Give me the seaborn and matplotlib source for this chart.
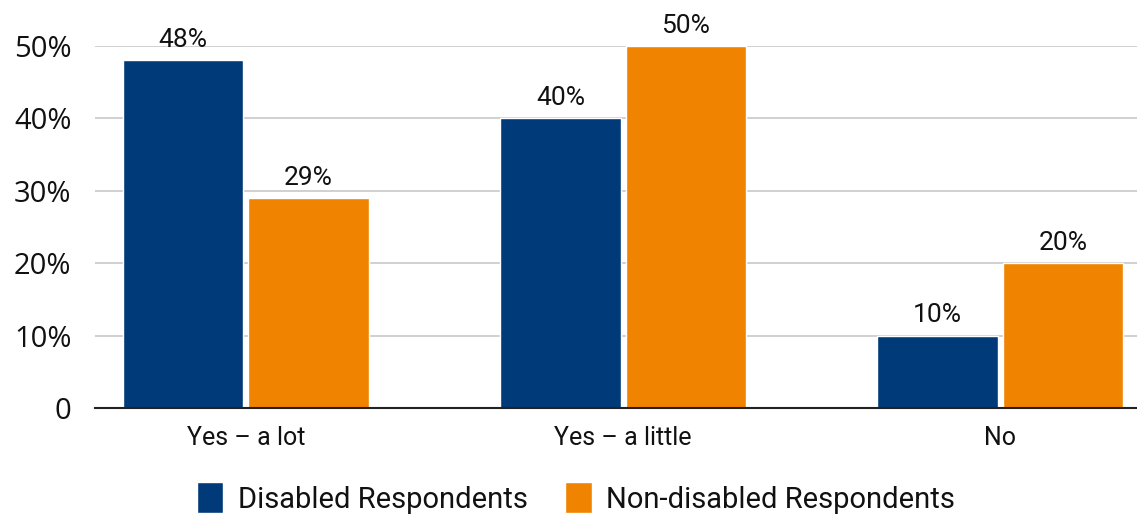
import matplotlib
matplotlib.use("Agg")
import matplotlib.pyplot as plt
from matplotlib.ticker import FuncFormatter
import seaborn as sns
import pandas as pd

categories = ["Yes – a lot", "Yes – a little", "No"]
disabled = [48, 40, 10]
non_disabled = [29, 50, 20]
series_names = ["Disabled Respondents", "Non-disabled Respondents"]
colors = ["#003A78", "#F08300"]

sns.set_theme(style="white")
plt.rcParams["font.family"] = ["Roboto", "DejaVu Sans"]

df = pd.DataFrame({
    "category": categories * 2,
    "value": disabled + non_disabled,
    "series": [series_names[0]] * 3 + [series_names[1]] * 3,
})

fig = plt.figure(figsize=(11.37, 5.17), dpi=100)
ax = fig.add_axes([95 / 1137, 1 - 408 / 517, 1060 / 1137, 362 / 517])

sns.barplot(data=df, x="category", y="value", hue="series", order=categories,
            hue_order=series_names, palette=colors, width=0.665, gap=0.04,
            saturation=1, ax=ax, legend=True)

ax.set_ylim(0, 50)
ax.set_xlim(-0.4, 2.41)
ax.set_yticks([0, 10, 20, 30, 40, 50])
ax.yaxis.set_major_formatter(FuncFormatter(lambda v, p: "0" if v == 0 else f"{v:.0f}%"))
ax.grid(axis="y", color="#c8c8c8", linewidth=1.2)
ax.set_axisbelow(True)
for s in ["top", "right", "left"]:
    ax.spines[s].set_visible(False)
ax.spines["bottom"].set_color("#222222")
ax.spines["bottom"].set_linewidth(1.5)
ax.set_xlabel("")
ax.set_ylabel("")
ax.tick_params(axis="y", length=0, pad=17)
ax.tick_params(axis="x", length=0, pad=13, labelsize=18)
for lab in ax.get_yticklabels():
    lab.set_fontfamily(["Open Sans", "DejaVu Sans"])
    lab.set_fontsize(21)
    lab.set_color("#111111")
for lab in ax.get_xticklabels():
    lab.set_color("#111111")

for cont in ax.containers:
    ax.bar_label(cont, labels=[f"{v:.0f}%" for v in cont.datavalues],
                 padding=6, fontsize=19, color="#111111", clip_on=False)

leg = ax.get_legend()
handles = leg.legend_handles
leg.remove()
fig.legend(handles, series_names, loc="center", bbox_to_anchor=(576 / 1137, 1 - 498 / 517),
           ncol=2, frameon=False, fontsize=21, handlelength=0.9, handleheight=1.25,
           handletextpad=0.5, columnspacing=1.3, labelcolor="#111111")

fig.savefig("out.png", dpi=100)
